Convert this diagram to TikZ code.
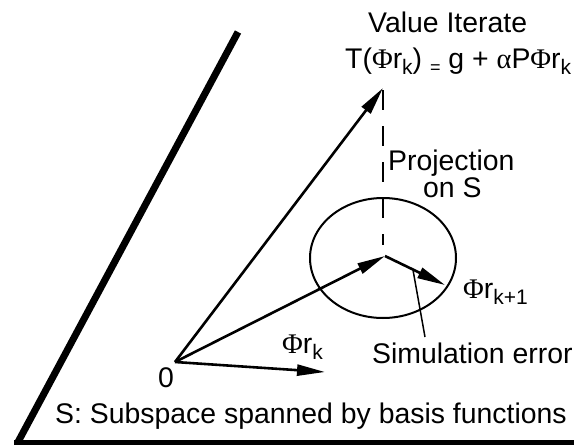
\documentclass[tikz,border=0pt]{standalone}
\usepackage{fontspec}
\setmainfont{Liberation Sans}
\newfontfamily\grk{Liberation Serif}
\usetikzlibrary{arrows.meta,shapes.geometric}
\newcommand{\sbk}[1]{\raisebox{-6pt}{\fontsize{21}{21}\selectfont #1}}
\begin{document}
\begin{tikzpicture}[x=1pt,y=-1pt,
  lbl/.style={font=\fontsize{28.4}{30}\selectfont, inner sep=0pt, anchor=base west},
  vec/.style={line width=2.6pt, -{Triangle[length=28pt,width=11pt]}},
  wall/.style={line width=7pt},
  floor/.style={line width=5pt},
  proj/.style={line width=2pt, dash pattern=on 20pt off 16pt},
  ring/.style={line width=2pt},
  leader/.style={line width=1.5pt}]
\useasboundingbox (0,0) rectangle (581,447);
% subspace
\coordinate (W1) at (238,32);
\coordinate (W2) at (18,442);
\coordinate (F1) at (14,442);
\coordinate (F2) at (574,442);
\draw[wall] (W1) -- (W2);
\draw[floor] (F1) -- (F2);
% points
\coordinate (O) at (175,362);
\coordinate (V) at (383,88);
\coordinate (P) at (385,256);
\coordinate (Q) at (445,285);
\coordinate (R) at (325,372);
\coordinate (D1) at (383,90);
\coordinate (D2) at (383,245);
\coordinate (L1) at (413,270);
\coordinate (L2) at (425,337);
% ellipse
\node[ring, draw, ellipse, minimum width=146pt, minimum height=120pt, inner sep=0pt] (E) at (383,258) {};
% vectors
\draw[vec] (O) -- (V);
\draw[vec] (O) -- (P);
\draw[vec] (P) -- (Q);
\draw[vec] (O) -- (R);
\draw[proj] (D1) -- (D2);
\draw[leader] (L1) -- (L2);
% labels
\node[lbl] (vi) at (368,32) {Value Iterate};
\node[lbl] (tf) at (345,68) {T({\grk Φ}r\sbk{k}) \raisebox{-5pt}{\fontsize{18}{18}\selectfont =} g + {\grk α}P{\grk Φ}r\sbk{k}};
\node[lbl] (pr) at (388,170) {Projection};
\node[lbl] (os) at (423,197) {on S};
\node[lbl] (rk1) at (463,298) {{\grk Φ}r\sbk{k+1}};
\node[lbl] (se) at (372,363) {Simulation error};
\node[lbl] (rk) at (282,353) {{\grk Φ}r\sbk{k}};
\node[lbl] (zero) at (158,387) {0};
\node[lbl] (ss) at (55,423) {S: Subspace spanned by basis functions};
\end{tikzpicture}
\end{document}
